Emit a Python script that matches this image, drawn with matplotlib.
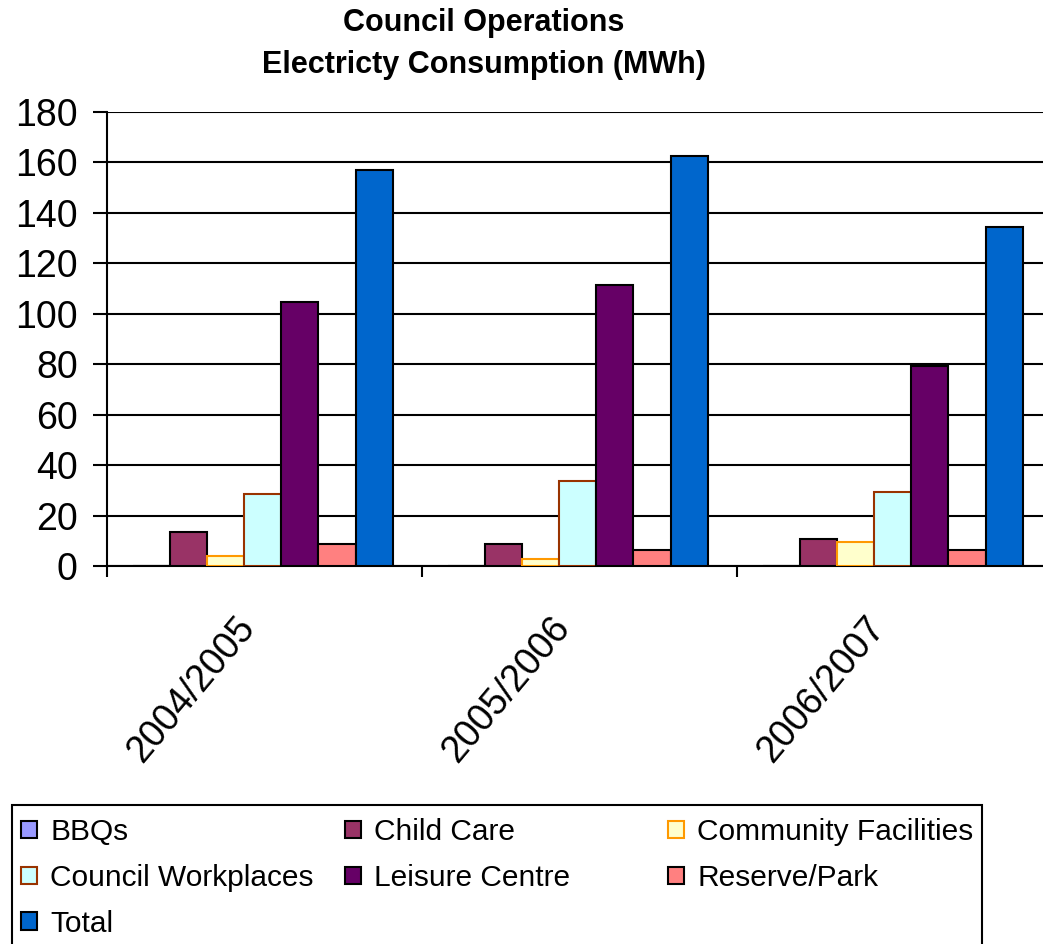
import matplotlib
matplotlib.use('Agg')
import matplotlib.pyplot as plt
import matplotlib.transforms as mtransforms
from matplotlib.patches import Rectangle
import numpy as np

plt.rcParams['font.family'] = ['Liberation Sans', 'DejaVu Sans']

# data (MWh)
years = ['2004/2005', '2005/2006', '2006/2007']
series_names = ['BBQs', 'Child Care', 'Community Facilities', 'Council Workplaces',
                'Leisure Centre', 'Reserve/Park', 'Total']
bbqs = [0, 0, 0]
child_care = [13.3, 8.7, 10.8]
community_facilities = [4.1, 2.6, 9.5]
council_workplaces = [28.4, 33.7, 29.2]
leisure_centre = [104.6, 111.4, 79.3]
reserve_park = [8.6, 6.3, 6.2]
total = [157.2, 162.6, 134.5]

values = [bbqs, child_care, community_facilities, council_workplaces,
          leisure_centre, reserve_park, total]
face_colors = ['#9999FF', '#993366', '#FFFFCC', '#CCFFFF', '#660066', '#FF8080', '#0066CC']
edge_colors = ['black', 'black', '#FF9900', '#993300', 'black', 'black', 'black']

fig = plt.figure(figsize=(10.43, 9.44), dpi=100)
ax = fig.add_axes([107 / 1043, 1 - 566 / 944, 945 / 1043, 454 / 944])

x = np.arange(len(years))
width = 0.118
bars = []
for i, (name, vals) in enumerate(zip(series_names, values)):
    b = ax.bar(x + (i - 3) * width - 0.006, vals, width, color=face_colors[i],
               edgecolor=edge_colors[i], linewidth=1.5, label=name, zorder=3)
    bars.append(b)

ax.set_xlim(-0.5, 2.5)
ax.set_ylim(0, 180)
ax.set_yticks(range(0, 181, 20))
ax.yaxis.grid(True, color='black', linewidth=1.5)
ax.set_axisbelow(True)
for s in ['top', 'right']:
    ax.spines[s].set_visible(False)
for s in ['left', 'bottom']:
    ax.spines[s].set_linewidth(1.5)

ax.tick_params(axis='y', labelsize=27, length=10, width=1.5, pad=11)
ax.set_xticks([-0.5, 0.5, 1.5, 2.5])
ax.set_xticklabels([])
ax.tick_params(axis='x', which='major', length=8, width=1.5)
ax.set_xticks(x, minor=True)
ax.set_xticklabels(years, minor=True, rotation=50, ha='right', va='top',
                   rotation_mode='anchor', fontsize=27)
ax.tick_params(axis='x', which='minor', length=0, pad=32)
shift = mtransforms.ScaledTranslation(-30 / 100, 0, fig.dpi_scale_trans)
for lab in ax.get_xticklabels(minor=True):
    lab.set_transform(lab.get_transform() + shift)

fig.text(0.464, 1 - 23 / 944, 'Council Operations', ha='center', va='center',
         fontsize=22, fontweight='bold')
fig.text(0.464, 1 - 65 / 944, 'Electricty Consumption (MWh)', ha='center', va='center',
         fontsize=22, fontweight='bold')

# legend: three columns placed by hand inside one frame
columns = [[0, 3, 6], [1, 4], [2, 5]]
col_x = [21, 345, 668]
for cols, cx in zip(columns, col_x):
    leg = fig.legend([bars[k] for k in cols], [series_names[k] for k in cols],
                     loc='upper left', bbox_to_anchor=(cx / 1043, 1 - 818 / 944),
                     frameon=False, fontsize=21.5, handlelength=0.53, handleheight=0.53,
                     handletextpad=0.45, labelspacing=0.6, borderpad=0, borderaxespad=0)
fig.add_artist(Rectangle((12 / 1043, -0.01), 970 / 1043, 1 - 805 / 944 + 0.01,
                         transform=fig.transFigure, fill=False, edgecolor='black',
                         linewidth=1.5))

fig.savefig('out.png', dpi=100)
